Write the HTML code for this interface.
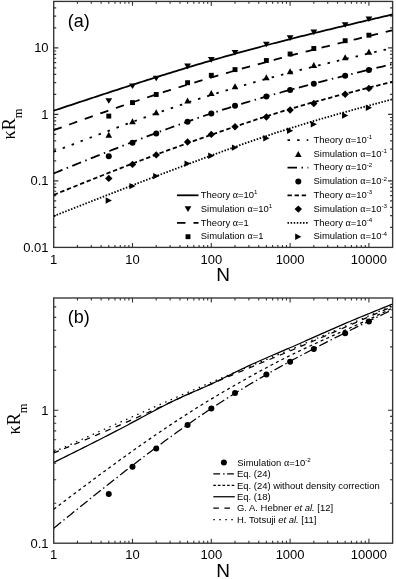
<!DOCTYPE html>
<html><head><meta charset="utf-8"><style>
html,body{margin:0;padding:0;background:#fff;}
body{width:396px;height:579px;overflow:hidden;}
svg{display:block;filter:grayscale(1);}
</style></head><body>
<svg width="396" height="579" viewBox="0 0 396 579" font-family="Liberation Sans" fill="#000">
<rect width="396" height="579" fill="#fff"/>
<g>
<rect x="53.70" y="1.42" width="338.92" height="245.98" fill="none" stroke="#333" stroke-width="1.35"/>
<path d="M77.42,247.40v-2.4M77.42,1.42v2.4M91.30,247.40v-2.4M91.30,1.42v2.4M101.14,247.40v-2.4M101.14,1.42v2.4M108.78,247.40v-2.4M108.78,1.42v2.4M115.02,247.40v-2.4M115.02,1.42v2.4M120.29,247.40v-2.4M120.29,1.42v2.4M124.86,247.40v-2.4M124.86,1.42v2.4M128.89,247.40v-2.4M128.89,1.42v2.4M132.50,247.40v-4.4M132.50,1.42v4.4M156.22,247.40v-2.4M156.22,1.42v2.4M170.10,247.40v-2.4M170.10,1.42v2.4M179.94,247.40v-2.4M179.94,1.42v2.4M187.58,247.40v-2.4M187.58,1.42v2.4M193.82,247.40v-2.4M193.82,1.42v2.4M199.09,247.40v-2.4M199.09,1.42v2.4M203.66,247.40v-2.4M203.66,1.42v2.4M207.69,247.40v-2.4M207.69,1.42v2.4M211.30,247.40v-4.4M211.30,1.42v4.4M235.02,247.40v-2.4M235.02,1.42v2.4M248.90,247.40v-2.4M248.90,1.42v2.4M258.74,247.40v-2.4M258.74,1.42v2.4M266.38,247.40v-2.4M266.38,1.42v2.4M272.62,247.40v-2.4M272.62,1.42v2.4M277.89,247.40v-2.4M277.89,1.42v2.4M282.46,247.40v-2.4M282.46,1.42v2.4M286.49,247.40v-2.4M286.49,1.42v2.4M290.10,247.40v-4.4M290.10,1.42v4.4M313.82,247.40v-2.4M313.82,1.42v2.4M327.70,247.40v-2.4M327.70,1.42v2.4M337.54,247.40v-2.4M337.54,1.42v2.4M345.18,247.40v-2.4M345.18,1.42v2.4M351.42,247.40v-2.4M351.42,1.42v2.4M356.69,247.40v-2.4M356.69,1.42v2.4M361.26,247.40v-2.4M361.26,1.42v2.4M365.29,247.40v-2.4M365.29,1.42v2.4M368.90,247.40v-4.4M368.90,1.42v4.4M53.70,180.90h4.6M392.62,180.90h-4.6M53.70,114.40h4.6M392.62,114.40h-4.6M53.70,47.90h4.6M392.62,47.90h-4.6M53.70,227.38h2.5M392.62,227.38h-2.5M53.70,215.67h2.5M392.62,215.67h-2.5M53.70,207.36h2.5M392.62,207.36h-2.5M53.70,200.92h2.5M392.62,200.92h-2.5M53.70,195.65h2.5M392.62,195.65h-2.5M53.70,191.20h2.5M392.62,191.20h-2.5M53.70,187.34h2.5M392.62,187.34h-2.5M53.70,183.94h2.5M392.62,183.94h-2.5M53.70,160.88h2.5M392.62,160.88h-2.5M53.70,149.17h2.5M392.62,149.17h-2.5M53.70,140.86h2.5M392.62,140.86h-2.5M53.70,134.42h2.5M392.62,134.42h-2.5M53.70,129.15h2.5M392.62,129.15h-2.5M53.70,124.70h2.5M392.62,124.70h-2.5M53.70,120.84h2.5M392.62,120.84h-2.5M53.70,117.44h2.5M392.62,117.44h-2.5M53.70,94.38h2.5M392.62,94.38h-2.5M53.70,82.67h2.5M392.62,82.67h-2.5M53.70,74.36h2.5M392.62,74.36h-2.5M53.70,67.92h2.5M392.62,67.92h-2.5M53.70,62.65h2.5M392.62,62.65h-2.5M53.70,58.20h2.5M392.62,58.20h-2.5M53.70,54.34h2.5M392.62,54.34h-2.5M53.70,50.94h2.5M392.62,50.94h-2.5M53.70,27.88h2.5M392.62,27.88h-2.5M53.70,16.17h2.5M392.62,16.17h-2.5M53.70,7.86h2.5M392.62,7.86h-2.5" stroke="#333" stroke-width="1.1" fill="none"/>
<text x="53.70" y="263.70" text-anchor="middle" font-size="13">1</text>
<text x="132.50" y="263.70" text-anchor="middle" font-size="13">10</text>
<text x="211.30" y="263.70" text-anchor="middle" font-size="13">100</text>
<text x="290.10" y="263.70" text-anchor="middle" font-size="13">1000</text>
<text x="368.90" y="263.70" text-anchor="middle" font-size="13">10000</text>
<text x="48.6" y="52.30" text-anchor="end" font-size="13">10</text>
<text x="48.6" y="118.80" text-anchor="end" font-size="13">1</text>
<text x="48.6" y="185.30" text-anchor="end" font-size="13">0.1</text>
<text x="48.6" y="251.80" text-anchor="end" font-size="13">0.01</text>
<clipPath id="ca"><rect x="53.7" y="1.418494711654759" width="338.9211636583217" height="245.98150528834526"/></clipPath>
<g clip-path="url(#ca)">
<path d="M53.70,110.70 L56.55,109.75 L59.40,108.81 L62.24,107.86 L65.09,106.92 L67.94,105.97 L70.79,105.03 L73.64,104.09 L76.48,103.14 L79.33,102.20 L82.18,101.26 L85.03,100.32 L87.88,99.37 L90.73,98.43 L93.57,97.50 L96.42,96.56 L99.27,95.62 L102.12,94.69 L104.97,93.75 L107.81,92.82 L110.66,91.89 L113.51,90.96 L116.36,90.03 L119.21,89.10 L122.05,88.18 L124.90,87.25 L127.75,86.33 L130.60,85.41 L133.45,84.50 L136.29,83.58 L139.14,82.67 L141.99,81.76 L144.84,80.85 L147.69,79.94 L150.53,79.04 L153.38,78.14 L156.23,77.24 L159.08,76.34 L161.93,75.45 L164.78,74.56 L167.62,73.67 L170.47,72.79 L173.32,71.91 L176.17,71.03 L179.02,70.15 L181.86,69.28 L184.71,68.42 L187.56,67.55 L190.41,66.69 L193.26,65.83 L196.10,64.98 L198.95,64.13 L201.80,63.29 L204.65,62.45 L207.50,61.61 L210.34,60.78 L213.19,59.95 L216.04,59.13 L218.89,58.31 L221.74,57.49 L224.58,56.68 L227.43,55.87 L230.28,55.07 L233.13,54.27 L235.98,53.48 L238.83,52.69 L241.67,51.90 L244.52,51.12 L247.37,50.34 L250.22,49.57 L253.07,48.79 L255.91,48.03 L258.76,47.26 L261.61,46.50 L264.46,45.75 L267.31,45.00 L270.15,44.25 L273.00,43.50 L275.85,42.76 L278.70,42.02 L281.55,41.29 L284.39,40.56 L287.24,39.83 L290.09,39.10 L292.94,38.38 L295.79,37.66 L298.63,36.95 L301.48,36.24 L304.33,35.53 L307.18,34.82 L310.03,34.12 L312.88,33.42 L315.72,32.72 L318.57,32.02 L321.42,31.33 L324.27,30.64 L327.12,29.95 L329.96,29.26 L332.81,28.58 L335.66,27.89 L338.51,27.21 L341.36,26.53 L344.20,25.86 L347.05,25.18 L349.90,24.51 L352.75,23.83 L355.60,23.16 L358.44,22.49 L361.29,21.82 L364.14,21.15 L366.99,20.48 L369.84,19.82 L372.68,19.15 L375.53,18.48 L378.38,17.82 L381.23,17.16 L384.08,16.49 L386.93,15.83 L389.77,15.16 L392.62,14.50" fill="none" stroke="#000" stroke-width="1.8"/>
<g><path d="M105.38,98.20h6.80l-3.40,5.60z"/><path d="M129.10,83.50h6.80l-3.40,5.60z"/><path d="M152.82,75.70h6.80l-3.40,5.60z"/><path d="M184.18,63.60h6.80l-3.40,5.60z"/><path d="M207.90,57.10h6.80l-3.40,5.60z"/><path d="M231.62,49.90h6.80l-3.40,5.60z"/><path d="M262.98,41.70h6.80l-3.40,5.60z"/><path d="M286.70,35.30h6.80l-3.40,5.60z"/><path d="M310.42,29.60h6.80l-3.40,5.60z"/><path d="M341.78,22.20h6.80l-3.40,5.60z"/><path d="M365.50,16.40h6.80l-3.40,5.60z"/></g>
<path d="M53.70,130.20 L56.55,129.17 L59.40,128.14 L62.24,127.10 L65.09,126.07 L67.94,125.04 L70.79,124.01 L73.64,122.99 L76.48,121.96 L79.33,120.93 L82.18,119.91 L85.03,118.89 L87.88,117.87 L90.73,116.85 L93.57,115.84 L96.42,114.82 L99.27,113.81 L102.12,112.81 L104.97,111.80 L107.81,110.80 L110.66,109.81 L113.51,108.81 L116.36,107.82 L119.21,106.84 L122.05,105.86 L124.90,104.88 L127.75,103.91 L130.60,102.94 L133.45,101.98 L136.29,101.02 L139.14,100.07 L141.99,99.13 L144.84,98.18 L147.69,97.25 L150.53,96.31 L153.38,95.39 L156.23,94.46 L159.08,93.55 L161.93,92.63 L164.78,91.72 L167.62,90.82 L170.47,89.92 L173.32,89.03 L176.17,88.14 L179.02,87.25 L181.86,86.37 L184.71,85.49 L187.56,84.62 L190.41,83.75 L193.26,82.88 L196.10,82.02 L198.95,81.17 L201.80,80.31 L204.65,79.47 L207.50,78.62 L210.34,77.78 L213.19,76.94 L216.04,76.11 L218.89,75.28 L221.74,74.46 L224.58,73.64 L227.43,72.82 L230.28,72.00 L233.13,71.19 L235.98,70.39 L238.83,69.58 L241.67,68.78 L244.52,67.99 L247.37,67.19 L250.22,66.40 L253.07,65.62 L255.91,64.84 L258.76,64.06 L261.61,63.28 L264.46,62.51 L267.31,61.74 L270.15,60.97 L273.00,60.21 L275.85,59.45 L278.70,58.70 L281.55,57.94 L284.39,57.19 L287.24,56.45 L290.09,55.70 L292.94,54.96 L295.79,54.22 L298.63,53.49 L301.48,52.76 L304.33,52.03 L307.18,51.30 L310.03,50.58 L312.88,49.86 L315.72,49.14 L318.57,48.42 L321.42,47.70 L324.27,46.99 L327.12,46.28 L329.96,45.57 L332.81,44.87 L335.66,44.16 L338.51,43.46 L341.36,42.75 L344.20,42.05 L347.05,41.36 L349.90,40.66 L352.75,39.96 L355.60,39.27 L358.44,38.57 L361.29,37.88 L364.14,37.19 L366.99,36.50 L369.84,35.81 L372.68,35.12 L375.53,34.43 L378.38,33.74 L381.23,33.05 L384.08,32.36 L386.93,31.67 L389.77,30.99 L392.62,30.30" fill="none" stroke="#000" stroke-width="1.8" stroke-dasharray="8.5 8"/>
<g><rect x="106.33" y="113.65" width="4.90" height="4.90"/><rect x="130.05" y="100.15" width="4.90" height="4.90"/><rect x="153.77" y="92.05" width="4.90" height="4.90"/><rect x="185.13" y="80.25" width="4.90" height="4.90"/><rect x="208.85" y="72.85" width="4.90" height="4.90"/><rect x="232.57" y="67.15" width="4.90" height="4.90"/><rect x="263.93" y="58.05" width="4.90" height="4.90"/><rect x="287.65" y="51.55" width="4.90" height="4.90"/><rect x="311.37" y="46.05" width="4.90" height="4.90"/><rect x="342.73" y="38.25" width="4.90" height="4.90"/><rect x="366.45" y="32.75" width="4.90" height="4.90"/></g>
<path d="M53.70,151.70 L56.55,150.60 L59.40,149.51 L62.24,148.41 L65.09,147.32 L67.94,146.23 L70.79,145.13 L73.64,144.04 L76.48,142.95 L79.33,141.86 L82.18,140.77 L85.03,139.68 L87.88,138.60 L90.73,137.51 L93.57,136.43 L96.42,135.35 L99.27,134.27 L102.12,133.19 L104.97,132.12 L107.81,131.05 L110.66,129.98 L113.51,128.92 L116.36,127.85 L119.21,126.80 L122.05,125.74 L124.90,124.69 L127.75,123.64 L130.60,122.60 L133.45,121.55 L136.29,120.52 L139.14,119.49 L141.99,118.46 L144.84,117.43 L147.69,116.41 L150.53,115.40 L153.38,114.39 L156.23,113.38 L159.08,112.38 L161.93,111.39 L164.78,110.39 L167.62,109.41 L170.47,108.43 L173.32,107.45 L176.17,106.48 L179.02,105.52 L181.86,104.56 L184.71,103.61 L187.56,102.66 L190.41,101.72 L193.26,100.78 L196.10,99.85 L198.95,98.93 L201.80,98.01 L204.65,97.10 L207.50,96.20 L210.34,95.30 L213.19,94.41 L216.04,93.52 L218.89,92.65 L221.74,91.78 L224.58,90.91 L227.43,90.05 L230.28,89.20 L233.13,88.35 L235.98,87.51 L238.83,86.68 L241.67,85.85 L244.52,85.03 L247.37,84.21 L250.22,83.40 L253.07,82.60 L255.91,81.80 L258.76,81.00 L261.61,80.21 L264.46,79.43 L267.31,78.65 L270.15,77.88 L273.00,77.11 L275.85,76.35 L278.70,75.59 L281.55,74.84 L284.39,74.09 L287.24,73.34 L290.09,72.60 L292.94,71.87 L295.79,71.14 L298.63,70.41 L301.48,69.69 L304.33,68.97 L307.18,68.25 L310.03,67.54 L312.88,66.84 L315.72,66.13 L318.57,65.43 L321.42,64.74 L324.27,64.04 L327.12,63.35 L329.96,62.66 L332.81,61.98 L335.66,61.30 L338.51,60.62 L341.36,59.94 L344.20,59.26 L347.05,58.59 L349.90,57.92 L352.75,57.25 L355.60,56.58 L358.44,55.91 L361.29,55.25 L364.14,54.59 L366.99,53.92 L369.84,53.26 L372.68,52.60 L375.53,51.94 L378.38,51.28 L381.23,50.63 L384.08,49.97 L386.93,49.31 L389.77,48.66 L392.62,48.00" fill="none" stroke="#000" stroke-width="1.8" stroke-dasharray="2.5 7.1"/>
<g><path d="M105.48,137.70h6.60l-3.30,-6.00z"/><path d="M129.20,124.30h6.60l-3.30,-6.00z"/><path d="M152.92,115.30h6.60l-3.30,-6.00z"/><path d="M184.28,103.40h6.60l-3.30,-6.00z"/><path d="M208.00,96.00h6.60l-3.30,-6.00z"/><path d="M231.72,89.20h6.60l-3.30,-6.00z"/><path d="M263.08,80.20h6.60l-3.30,-6.00z"/><path d="M286.80,74.30h6.60l-3.30,-6.00z"/><path d="M310.52,68.00h6.60l-3.30,-6.00z"/><path d="M341.88,60.20h6.60l-3.30,-6.00z"/><path d="M365.60,54.80h6.60l-3.30,-6.00z"/></g>
<path d="M53.70,173.40 L56.55,172.25 L59.40,171.10 L62.24,169.94 L65.09,168.79 L67.94,167.64 L70.79,166.49 L73.64,165.34 L76.48,164.19 L79.33,163.04 L82.18,161.90 L85.03,160.75 L87.88,159.61 L90.73,158.47 L93.57,157.33 L96.42,156.19 L99.27,155.05 L102.12,153.92 L104.97,152.79 L107.81,151.66 L110.66,150.53 L113.51,149.41 L116.36,148.29 L119.21,147.17 L122.05,146.06 L124.90,144.95 L127.75,143.84 L130.60,142.74 L133.45,141.63 L136.29,140.54 L139.14,139.45 L141.99,138.36 L144.84,137.27 L147.69,136.19 L150.53,135.12 L153.38,134.05 L156.23,132.98 L159.08,131.92 L161.93,130.87 L164.78,129.81 L167.62,128.77 L170.47,127.73 L173.32,126.69 L176.17,125.67 L179.02,124.64 L181.86,123.63 L184.71,122.62 L187.56,121.61 L190.41,120.61 L193.26,119.62 L196.10,118.64 L198.95,117.66 L201.80,116.69 L204.65,115.72 L207.50,114.77 L210.34,113.82 L213.19,112.87 L216.04,111.94 L218.89,111.01 L221.74,110.09 L224.58,109.18 L227.43,108.27 L230.28,107.37 L233.13,106.48 L235.98,105.60 L238.83,104.72 L241.67,103.84 L244.52,102.98 L247.37,102.12 L250.22,101.26 L253.07,100.42 L255.91,99.57 L258.76,98.74 L261.61,97.91 L264.46,97.08 L267.31,96.26 L270.15,95.45 L273.00,94.64 L275.85,93.84 L278.70,93.04 L281.55,92.25 L284.39,91.46 L287.24,90.68 L290.09,89.90 L292.94,89.13 L295.79,88.36 L298.63,87.60 L301.48,86.84 L304.33,86.08 L307.18,85.33 L310.03,84.58 L312.88,83.84 L315.72,83.10 L318.57,82.36 L321.42,81.63 L324.27,80.90 L327.12,80.17 L329.96,79.44 L332.81,78.72 L335.66,78.00 L338.51,77.29 L341.36,76.57 L344.20,75.86 L347.05,75.15 L349.90,74.45 L352.75,73.74 L355.60,73.04 L358.44,72.34 L361.29,71.64 L364.14,70.94 L366.99,70.24 L369.84,69.54 L372.68,68.85 L375.53,68.15 L378.38,67.46 L381.23,66.77 L384.08,66.08 L386.93,65.38 L389.77,64.69 L392.62,64.00" fill="none" stroke="#000" stroke-width="1.8" stroke-dasharray="9.5 4.5 1.5 4.5"/>
<g><circle cx="108.78" cy="156.30" r="3.00"/><circle cx="132.50" cy="142.70" r="3.00"/><circle cx="156.22" cy="133.50" r="3.00"/><circle cx="187.58" cy="121.80" r="3.00"/><circle cx="211.30" cy="113.50" r="3.00"/><circle cx="235.02" cy="105.70" r="3.00"/><circle cx="266.38" cy="96.50" r="3.00"/><circle cx="290.10" cy="90.10" r="3.00"/><circle cx="313.82" cy="83.70" r="3.00"/><circle cx="345.18" cy="75.80" r="3.00"/><circle cx="368.90" cy="70.00" r="3.00"/></g>
<path d="M53.70,194.90 L56.55,193.75 L59.40,192.60 L62.24,191.45 L65.09,190.30 L67.94,189.15 L70.79,188.00 L73.64,186.86 L76.48,185.71 L79.33,184.56 L82.18,183.42 L85.03,182.28 L87.88,181.14 L90.73,180.00 L93.57,178.86 L96.42,177.73 L99.27,176.60 L102.12,175.47 L104.97,174.34 L107.81,173.21 L110.66,172.09 L113.51,170.97 L116.36,169.86 L119.21,168.74 L122.05,167.64 L124.90,166.53 L127.75,165.43 L130.60,164.33 L133.45,163.24 L136.29,162.15 L139.14,161.06 L141.99,159.98 L144.84,158.90 L147.69,157.83 L150.53,156.76 L153.38,155.70 L156.23,154.63 L159.08,153.58 L161.93,152.52 L164.78,151.47 L167.62,150.42 L170.47,149.38 L173.32,148.34 L176.17,147.31 L179.02,146.27 L181.86,145.24 L184.71,144.22 L187.56,143.20 L190.41,142.18 L193.26,141.16 L196.10,140.15 L198.95,139.14 L201.80,138.13 L204.65,137.13 L207.50,136.13 L210.34,135.13 L213.19,134.14 L216.04,133.15 L218.89,132.16 L221.74,131.18 L224.58,130.20 L227.43,129.22 L230.28,128.25 L233.13,127.28 L235.98,126.31 L238.83,125.35 L241.67,124.40 L244.52,123.44 L247.37,122.50 L250.22,121.56 L253.07,120.62 L255.91,119.69 L258.76,118.76 L261.61,117.84 L264.46,116.93 L267.31,116.02 L270.15,115.12 L273.00,114.23 L275.85,113.34 L278.70,112.46 L281.55,111.58 L284.39,110.72 L287.24,109.86 L290.09,109.00 L292.94,108.16 L295.79,107.32 L298.63,106.49 L301.48,105.66 L304.33,104.85 L307.18,104.04 L310.03,103.23 L312.88,102.43 L315.72,101.64 L318.57,100.85 L321.42,100.07 L324.27,99.30 L327.12,98.53 L329.96,97.76 L332.81,97.00 L335.66,96.24 L338.51,95.49 L341.36,94.74 L344.20,93.99 L347.05,93.25 L349.90,92.51 L352.75,91.78 L355.60,91.05 L358.44,90.32 L361.29,89.59 L364.14,88.87 L366.99,88.14 L369.84,87.42 L372.68,86.70 L375.53,85.99 L378.38,85.27 L381.23,84.55 L384.08,83.84 L386.93,83.13 L389.77,82.41 L392.62,81.70" fill="none" stroke="#000" stroke-width="1.8" stroke-dasharray="4.4 2.7"/>
<g><path d="M108.78,174.70l3.70,3.70l-3.70,3.70l-3.70,-3.70z"/><path d="M132.50,160.70l3.70,3.70l-3.70,3.70l-3.70,-3.70z"/><path d="M156.22,151.20l3.70,3.70l-3.70,3.70l-3.70,-3.70z"/><path d="M187.58,138.30l3.70,3.70l-3.70,3.70l-3.70,-3.70z"/><path d="M211.30,130.70l3.70,3.70l-3.70,3.70l-3.70,-3.70z"/><path d="M235.02,123.00l3.70,3.70l-3.70,3.70l-3.70,-3.70z"/><path d="M266.38,113.30l3.70,3.70l-3.70,3.70l-3.70,-3.70z"/><path d="M290.10,106.30l3.70,3.70l-3.70,3.70l-3.70,-3.70z"/><path d="M313.82,99.80l3.70,3.70l-3.70,3.70l-3.70,-3.70z"/><path d="M345.18,90.60l3.70,3.70l-3.70,3.70l-3.70,-3.70z"/><path d="M368.90,84.70l3.70,3.70l-3.70,3.70l-3.70,-3.70z"/></g>
<path d="M53.70,216.10 L56.55,214.98 L59.40,213.86 L62.24,212.74 L65.09,211.62 L67.94,210.51 L70.79,209.39 L73.64,208.27 L76.48,207.15 L79.33,206.04 L82.18,204.92 L85.03,203.80 L87.88,202.69 L90.73,201.57 L93.57,200.46 L96.42,199.34 L99.27,198.23 L102.12,197.12 L104.97,196.00 L107.81,194.89 L110.66,193.78 L113.51,192.67 L116.36,191.56 L119.21,190.46 L122.05,189.35 L124.90,188.24 L127.75,187.14 L130.60,186.04 L133.45,184.93 L136.29,183.83 L139.14,182.73 L141.99,181.64 L144.84,180.54 L147.69,179.44 L150.53,178.35 L153.38,177.26 L156.23,176.17 L159.08,175.08 L161.93,173.99 L164.78,172.91 L167.62,171.83 L170.47,170.74 L173.32,169.67 L176.17,168.59 L179.02,167.51 L181.86,166.44 L184.71,165.37 L187.56,164.30 L190.41,163.24 L193.26,162.17 L196.10,161.11 L198.95,160.06 L201.80,159.00 L204.65,157.95 L207.50,156.90 L210.34,155.85 L213.19,154.81 L216.04,153.77 L218.89,152.73 L221.74,151.69 L224.58,150.66 L227.43,149.63 L230.28,148.61 L233.13,147.59 L235.98,146.57 L238.83,145.56 L241.67,144.56 L244.52,143.55 L247.37,142.56 L250.22,141.57 L253.07,140.58 L255.91,139.60 L258.76,138.62 L261.61,137.65 L264.46,136.69 L267.31,135.73 L270.15,134.78 L273.00,133.83 L275.85,132.89 L278.70,131.96 L281.55,131.04 L284.39,130.12 L287.24,129.21 L290.09,128.30 L292.94,127.41 L295.79,126.52 L298.63,125.64 L301.48,124.76 L304.33,123.90 L307.18,123.03 L310.03,122.18 L312.88,121.33 L315.72,120.49 L318.57,119.65 L321.42,118.82 L324.27,117.99 L327.12,117.17 L329.96,116.36 L332.81,115.54 L335.66,114.74 L338.51,113.93 L341.36,113.14 L344.20,112.34 L347.05,111.55 L349.90,110.76 L352.75,109.98 L355.60,109.19 L358.44,108.41 L361.29,107.64 L364.14,106.86 L366.99,106.09 L369.84,105.32 L372.68,104.55 L375.53,103.78 L378.38,103.02 L381.23,102.25 L384.08,101.49 L386.93,100.73 L389.77,99.96 L392.62,99.20" fill="none" stroke="#000" stroke-width="1.8" stroke-dasharray="1.5 1.6"/>
<g><path d="M105.68,197.30l6.20,3.20l-6.20,3.20z"/><path d="M129.40,182.90l6.20,3.20l-6.20,3.20z"/><path d="M153.12,172.90l6.20,3.20l-6.20,3.20z"/><path d="M184.48,160.40l6.20,3.20l-6.20,3.20z"/><path d="M208.20,152.60l6.20,3.20l-6.20,3.20z"/><path d="M231.92,144.40l6.20,3.20l-6.20,3.20z"/><path d="M263.28,135.00l6.20,3.20l-6.20,3.20z"/><path d="M287.00,127.50l6.20,3.20l-6.20,3.20z"/><path d="M310.72,121.00l6.20,3.20l-6.20,3.20z"/><path d="M342.08,112.30l6.20,3.20l-6.20,3.20z"/><path d="M365.80,104.60l6.20,3.20l-6.20,3.20z"/></g>
</g>
<text x="67.8" y="26.6" font-size="18">(a)</text>
<text x="223.2" y="280.8" text-anchor="middle" font-size="19">N</text>
<text transform="translate(14.8,124) rotate(-90)" text-anchor="middle" font-family="Liberation Serif" font-size="18">κR<tspan font-size="12.5" dy="7.5">m</tspan></text>
<path d="M177.00,195.30H198.50" stroke="#000" stroke-width="1.8" fill="none"/>
<text x="200.80" y="198.00" font-size="9.45">Theory <tspan font-family="Liberation Serif" font-size="10">α</tspan>=10<tspan font-size="6.2" dy="-3.6">1</tspan></text>
<path d="M184.60,206.30h6.80l-3.40,5.60z"/>
<text x="200.80" y="211.80" font-size="9.45">Simulation <tspan font-family="Liberation Serif" font-size="10">α</tspan>=10<tspan font-size="6.2" dy="-3.6">1</tspan></text>
<path d="M177.00,222.90H198.50" stroke="#000" stroke-width="1.8" fill="none" stroke-dasharray="8.5 8"/>
<text x="200.8" y="225.60" font-size="9.45">Theory <tspan font-family="Liberation Serif" font-size="10">α</tspan>=1</text>
<rect x="185.55" y="234.25" width="4.90" height="4.90"/>
<text x="200.8" y="239.40" font-size="9.45">Simulation <tspan font-family="Liberation Serif" font-size="10">α</tspan>=1</text>
<path d="M287.50,140.10H308.30" stroke="#000" stroke-width="1.8" fill="none" stroke-dasharray="2.5 7.1"/>
<text x="313.50" y="142.80" font-size="9.45">Theory <tspan font-family="Liberation Serif" font-size="10">α</tspan>=10<tspan font-size="6.2" dy="-3.6">-1</tspan></text>
<path d="M295.00,156.90h6.60l-3.30,-6.00z"/>
<text x="313.50" y="156.60" font-size="9.45">Simulation <tspan font-family="Liberation Serif" font-size="10">α</tspan>=10<tspan font-size="6.2" dy="-3.6">-1</tspan></text>
<path d="M287.50,167.70H308.30" stroke="#000" stroke-width="1.8" fill="none" stroke-dasharray="9.5 4.5 1.5 4.5"/>
<text x="313.50" y="170.40" font-size="9.45">Theory <tspan font-family="Liberation Serif" font-size="10">α</tspan>=10<tspan font-size="6.2" dy="-3.6">-2</tspan></text>
<circle cx="298.30" cy="181.50" r="3.00"/>
<text x="313.50" y="184.20" font-size="9.45">Simulation <tspan font-family="Liberation Serif" font-size="10">α</tspan>=10<tspan font-size="6.2" dy="-3.6">-2</tspan></text>
<path d="M287.50,195.30H308.30" stroke="#000" stroke-width="1.8" fill="none" stroke-dasharray="4.4 2.7"/>
<text x="313.50" y="198.00" font-size="9.45">Theory <tspan font-family="Liberation Serif" font-size="10">α</tspan>=10<tspan font-size="6.2" dy="-3.6">-3</tspan></text>
<path d="M298.30,205.40l3.70,3.70l-3.70,3.70l-3.70,-3.70z"/>
<text x="313.50" y="211.80" font-size="9.45">Simulation <tspan font-family="Liberation Serif" font-size="10">α</tspan>=10<tspan font-size="6.2" dy="-3.6">-3</tspan></text>
<path d="M287.50,222.90H308.30" stroke="#000" stroke-width="1.8" fill="none" stroke-dasharray="1.5 1.6"/>
<text x="313.50" y="225.60" font-size="9.45">Theory <tspan font-family="Liberation Serif" font-size="10">α</tspan>=10<tspan font-size="6.2" dy="-3.6">-4</tspan></text>
<path d="M295.20,233.50l6.20,3.20l-6.20,3.20z"/>
<text x="313.50" y="239.40" font-size="9.45">Simulation <tspan font-family="Liberation Serif" font-size="10">α</tspan>=10<tspan font-size="6.2" dy="-3.6">-4</tspan></text>
</g>
<g>
<rect x="53.70" y="297.99" width="338.92" height="245.21" fill="none" stroke="#333" stroke-width="1.35"/>
<path d="M77.42,543.20v-2.4M77.42,297.99v2.4M91.30,543.20v-2.4M91.30,297.99v2.4M101.14,543.20v-2.4M101.14,297.99v2.4M108.78,543.20v-2.4M108.78,297.99v2.4M115.02,543.20v-2.4M115.02,297.99v2.4M120.29,543.20v-2.4M120.29,297.99v2.4M124.86,543.20v-2.4M124.86,297.99v2.4M128.89,543.20v-2.4M128.89,297.99v2.4M132.50,543.20v-4.4M132.50,297.99v4.4M156.22,543.20v-2.4M156.22,297.99v2.4M170.10,543.20v-2.4M170.10,297.99v2.4M179.94,543.20v-2.4M179.94,297.99v2.4M187.58,543.20v-2.4M187.58,297.99v2.4M193.82,543.20v-2.4M193.82,297.99v2.4M199.09,543.20v-2.4M199.09,297.99v2.4M203.66,543.20v-2.4M203.66,297.99v2.4M207.69,543.20v-2.4M207.69,297.99v2.4M211.30,543.20v-4.4M211.30,297.99v4.4M235.02,543.20v-2.4M235.02,297.99v2.4M248.90,543.20v-2.4M248.90,297.99v2.4M258.74,543.20v-2.4M258.74,297.99v2.4M266.38,543.20v-2.4M266.38,297.99v2.4M272.62,543.20v-2.4M272.62,297.99v2.4M277.89,543.20v-2.4M277.89,297.99v2.4M282.46,543.20v-2.4M282.46,297.99v2.4M286.49,543.20v-2.4M286.49,297.99v2.4M290.10,543.20v-4.4M290.10,297.99v4.4M313.82,543.20v-2.4M313.82,297.99v2.4M327.70,543.20v-2.4M327.70,297.99v2.4M337.54,543.20v-2.4M337.54,297.99v2.4M345.18,543.20v-2.4M345.18,297.99v2.4M351.42,543.20v-2.4M351.42,297.99v2.4M356.69,543.20v-2.4M356.69,297.99v2.4M361.26,543.20v-2.4M361.26,297.99v2.4M365.29,543.20v-2.4M365.29,297.99v2.4M368.90,543.20v-4.4M368.90,297.99v4.4M53.70,410.30h4.6M392.62,410.30h-4.6M53.70,503.19h2.5M392.62,503.19h-2.5M53.70,479.79h2.5M392.62,479.79h-2.5M53.70,463.19h2.5M392.62,463.19h-2.5M53.70,450.31h2.5M392.62,450.31h-2.5M53.70,439.78h2.5M392.62,439.78h-2.5M53.70,430.89h2.5M392.62,430.89h-2.5M53.70,423.18h2.5M392.62,423.18h-2.5M53.70,416.38h2.5M392.62,416.38h-2.5M53.70,370.29h2.5M392.62,370.29h-2.5M53.70,346.89h2.5M392.62,346.89h-2.5M53.70,330.29h2.5M392.62,330.29h-2.5M53.70,317.41h2.5M392.62,317.41h-2.5M53.70,306.88h2.5M392.62,306.88h-2.5" stroke="#333" stroke-width="1.1" fill="none"/>
<text x="53.70" y="559.30" text-anchor="middle" font-size="13">1</text>
<text x="132.50" y="559.30" text-anchor="middle" font-size="13">10</text>
<text x="211.30" y="559.30" text-anchor="middle" font-size="13">100</text>
<text x="290.10" y="559.30" text-anchor="middle" font-size="13">1000</text>
<text x="368.90" y="559.30" text-anchor="middle" font-size="13">10000</text>
<text x="48.6" y="414.70" text-anchor="end" font-size="13">1</text>
<text x="48.6" y="547.60" text-anchor="end" font-size="13">0.1</text>
<clipPath id="cb"><rect x="53.7" y="297.9864704821053" width="338.9211636583217" height="245.21352951789476"/></clipPath>
<g clip-path="url(#cb)">
<path d="M53.70,528.21 L56.55,525.91 L59.40,523.61 L62.24,521.30 L65.09,519.00 L67.94,516.70 L70.79,514.40 L73.64,512.10 L76.48,509.81 L79.33,507.52 L82.18,505.23 L85.03,502.94 L87.88,500.65 L90.73,498.37 L93.57,496.09 L96.42,493.82 L99.27,491.55 L102.12,489.28 L104.97,487.02 L107.81,484.77 L110.66,482.51 L113.51,480.27 L116.36,478.03 L119.21,475.80 L122.05,473.57 L124.90,471.35 L127.75,469.13 L130.60,466.93 L133.45,464.73 L136.29,462.54 L139.14,460.35 L141.99,458.18 L144.84,456.01 L147.69,453.85 L150.53,451.71 L153.38,449.57 L156.23,447.44 L159.08,445.32 L161.93,443.21 L164.78,441.11 L167.62,439.02 L170.47,436.94 L173.32,434.87 L176.17,432.82 L179.02,430.77 L181.86,428.74 L184.71,426.72 L187.56,424.71 L190.41,422.72 L193.26,420.74 L196.10,418.77 L198.95,416.81 L201.80,414.87 L204.65,412.95 L207.50,411.03 L210.34,409.13 L213.19,407.25 L216.04,405.38 L218.89,403.53 L221.74,401.69 L224.58,399.87 L227.43,398.05 L230.28,396.26 L233.13,394.47 L235.98,392.70 L238.83,390.95 L241.67,389.20 L244.52,387.47 L247.37,385.75 L250.22,384.05 L253.07,382.35 L255.91,380.67 L258.76,379.00 L261.61,377.34 L264.46,375.69 L267.31,374.06 L270.15,372.43 L273.00,370.82 L275.85,369.21 L278.70,367.62 L281.55,366.03 L284.39,364.46 L287.24,362.90 L290.09,361.34 L292.94,359.80 L295.79,358.26 L298.63,356.73 L301.48,355.21 L304.33,353.70 L307.18,352.20 L310.03,350.71 L312.88,349.22 L315.72,347.74 L318.57,346.27 L321.42,344.80 L324.27,343.34 L327.12,341.89 L329.96,340.44 L332.81,339.00 L335.66,337.56 L338.51,336.13 L341.36,334.70 L344.20,333.28 L347.05,331.87 L349.90,330.45 L352.75,329.04 L355.60,327.64 L358.44,326.23 L361.29,324.84 L364.14,323.44 L366.99,322.05 L369.84,320.65 L372.68,319.26 L375.53,317.88 L378.38,316.49 L381.23,315.11 L384.08,313.72 L386.93,312.34 L389.77,310.96 L392.62,309.58" fill="none" stroke="#000" stroke-width="1.25" stroke-dasharray="9.5 3 1.5 3"/>
<path d="M53.70,509.20 L56.55,507.06 L59.40,504.91 L62.24,502.77 L65.09,500.63 L67.94,498.49 L70.79,496.35 L73.64,494.21 L76.48,492.08 L79.33,489.94 L82.18,487.81 L85.03,485.69 L87.88,483.56 L90.73,481.44 L93.57,479.33 L96.42,477.22 L99.27,475.11 L102.12,473.01 L104.97,470.92 L107.81,468.83 L110.66,466.74 L113.51,464.67 L116.36,462.60 L119.21,460.53 L122.05,458.48 L124.90,456.43 L127.75,454.39 L130.60,452.35 L133.45,450.33 L136.29,448.31 L139.14,446.31 L141.99,444.31 L144.84,442.32 L147.69,440.34 L150.53,438.37 L153.38,436.42 L156.23,434.47 L159.08,432.53 L161.93,430.60 L164.78,428.68 L167.62,426.78 L170.47,424.88 L173.32,423.00 L176.17,421.12 L179.02,419.26 L181.86,417.41 L184.71,415.57 L187.56,413.74 L190.41,411.93 L193.26,410.12 L196.10,408.33 L198.95,406.56 L201.80,404.79 L204.65,403.04 L207.50,401.30 L210.34,399.58 L213.19,397.86 L216.04,396.17 L218.89,394.48 L221.74,392.80 L224.58,391.14 L227.43,389.49 L230.28,387.84 L233.13,386.21 L235.98,384.58 L238.83,382.97 L241.67,381.35 L244.52,379.75 L247.37,378.15 L250.22,376.57 L253.07,374.99 L255.91,373.42 L258.76,371.86 L261.61,370.31 L264.46,368.77 L267.31,367.24 L270.15,365.73 L273.00,364.23 L275.85,362.74 L278.70,361.26 L281.55,359.80 L284.39,358.35 L287.24,356.92 L290.09,355.50 L292.94,354.11 L295.79,352.72 L298.63,351.35 L301.48,350.00 L304.33,348.65 L307.18,347.32 L310.03,346.00 L312.88,344.68 L315.72,343.38 L318.57,342.08 L321.42,340.79 L324.27,339.51 L327.12,338.23 L329.96,336.95 L332.81,335.68 L335.66,334.41 L338.51,333.14 L341.36,331.87 L344.20,330.59 L347.05,329.32 L349.90,328.04 L352.75,326.75 L355.60,325.47 L358.44,324.17 L361.29,322.87 L364.14,321.56 L366.99,320.24 L369.84,318.91 L372.68,317.57 L375.53,316.22 L378.38,314.86 L381.23,313.50 L384.08,312.13 L386.93,310.75 L389.77,309.38 L392.62,308.00" fill="none" stroke="#000" stroke-width="1.25" stroke-dasharray="3 3.2"/>
<path d="M53.70,462.50 L56.55,461.09 L59.40,459.67 L62.24,458.26 L65.09,456.85 L67.94,455.43 L70.79,454.01 L73.64,452.59 L76.48,451.17 L79.33,449.75 L82.18,448.33 L85.03,446.90 L87.88,445.47 L90.73,444.03 L93.57,442.59 L96.42,441.15 L99.27,439.70 L102.12,438.25 L104.97,436.79 L107.81,435.33 L110.66,433.86 L113.51,432.39 L116.36,430.91 L119.21,429.43 L122.05,427.93 L124.90,426.43 L127.75,424.93 L130.60,423.42 L133.45,421.89 L136.29,420.37 L139.14,418.83 L141.99,417.30 L144.84,415.76 L147.69,414.23 L150.53,412.70 L153.38,411.18 L156.23,409.67 L159.08,408.18 L161.93,406.69 L164.78,405.23 L167.62,403.79 L170.47,402.36 L173.32,400.97 L176.17,399.60 L179.02,398.26 L181.86,396.95 L184.71,395.67 L187.56,394.41 L190.41,393.17 L193.26,391.94 L196.10,390.72 L198.95,389.49 L201.80,388.26 L204.65,387.01 L207.50,385.74 L210.34,384.44 L213.19,383.11 L216.04,381.76 L218.89,380.37 L221.74,378.97 L224.58,377.55 L227.43,376.13 L230.28,374.70 L233.13,373.28 L235.98,371.87 L238.83,370.47 L241.67,369.09 L244.52,367.74 L247.37,366.41 L250.22,365.09 L253.07,363.80 L255.91,362.52 L258.76,361.25 L261.61,359.99 L264.46,358.75 L267.31,357.51 L270.15,356.28 L273.00,355.05 L275.85,353.83 L278.70,352.61 L281.55,351.39 L284.39,350.17 L287.24,348.94 L290.09,347.70 L292.94,346.46 L295.79,345.22 L298.63,343.96 L301.48,342.71 L304.33,341.45 L307.18,340.18 L310.03,338.91 L312.88,337.65 L315.72,336.38 L318.57,335.11 L321.42,333.85 L324.27,332.59 L327.12,331.33 L329.96,330.07 L332.81,328.82 L335.66,327.58 L338.51,326.34 L341.36,325.12 L344.20,323.90 L347.05,322.69 L349.90,321.48 L352.75,320.29 L355.60,319.09 L358.44,317.91 L361.29,316.73 L364.14,315.56 L366.99,314.39 L369.84,313.22 L372.68,312.06 L375.53,310.90 L378.38,309.75 L381.23,308.60 L384.08,307.45 L386.93,306.30 L389.77,305.15 L392.62,304.00" fill="none" stroke="#000" stroke-width="1.25"/>
<path d="M53.70,453.00 L56.55,451.82 L59.40,450.63 L62.24,449.45 L65.09,448.26 L67.94,447.07 L70.79,445.88 L73.64,444.70 L76.48,443.51 L79.33,442.31 L82.18,441.12 L85.03,439.92 L87.88,438.73 L90.73,437.52 L93.57,436.32 L96.42,435.11 L99.27,433.91 L102.12,432.69 L104.97,431.48 L107.81,430.26 L110.66,429.03 L113.51,427.81 L116.36,426.57 L119.21,425.34 L122.05,424.10 L124.90,422.85 L127.75,421.60 L130.60,420.34 L133.45,419.08 L136.29,417.81 L139.14,416.54 L141.99,415.26 L144.84,413.98 L147.69,412.70 L150.53,411.41 L153.38,410.12 L156.23,408.82 L159.08,407.53 L161.93,406.23 L164.78,404.93 L167.62,403.64 L170.47,402.34 L173.32,401.04 L176.17,399.74 L179.02,398.45 L181.86,397.15 L184.71,395.86 L187.56,394.57 L190.41,393.29 L193.26,392.01 L196.10,390.73 L198.95,389.46 L201.80,388.19 L204.65,386.93 L207.50,385.67 L210.34,384.42 L213.19,383.17 L216.04,381.94 L218.89,380.71 L221.74,379.48 L224.58,378.26 L227.43,377.05 L230.28,375.84 L233.13,374.64 L235.98,373.44 L238.83,372.24 L241.67,371.05 L244.52,369.86 L247.37,368.67 L250.22,367.48 L253.07,366.30 L255.91,365.12 L258.76,363.94 L261.61,362.76 L264.46,361.58 L267.31,360.40 L270.15,359.22 L273.00,358.03 L275.85,356.85 L278.70,355.67 L281.55,354.48 L284.39,353.29 L287.24,352.10 L290.09,350.90 L292.94,349.71 L295.79,348.50 L298.63,347.30 L301.48,346.09 L304.33,344.88 L307.18,343.66 L310.03,342.45 L312.88,341.23 L315.72,340.00 L318.57,338.78 L321.42,337.55 L324.27,336.32 L327.12,335.09 L329.96,333.85 L332.81,332.61 L335.66,331.37 L338.51,330.13 L341.36,328.89 L344.20,327.64 L347.05,326.40 L349.90,325.15 L352.75,323.90 L355.60,322.65 L358.44,321.39 L361.29,320.14 L364.14,318.89 L366.99,317.63 L369.84,316.37 L372.68,315.12 L375.53,313.86 L378.38,312.60 L381.23,311.34 L384.08,310.08 L386.93,308.82 L389.77,307.56 L392.62,306.30" fill="none" stroke="#000" stroke-width="1.25" stroke-dasharray="5.6 5.6"/>
<path d="M53.70,452.00 L56.55,450.72 L59.40,449.44 L62.24,448.16 L65.09,446.88 L67.94,445.60 L70.79,444.32 L73.64,443.04 L76.48,441.77 L79.33,440.49 L82.18,439.21 L85.03,437.93 L87.88,436.65 L90.73,435.38 L93.57,434.10 L96.42,432.82 L99.27,431.55 L102.12,430.27 L104.97,429.00 L107.81,427.72 L110.66,426.45 L113.51,425.17 L116.36,423.90 L119.21,422.63 L122.05,421.36 L124.90,420.09 L127.75,418.82 L130.60,417.55 L133.45,416.28 L136.29,415.01 L139.14,413.74 L141.99,412.48 L144.84,411.21 L147.69,409.95 L150.53,408.69 L153.38,407.43 L156.23,406.17 L159.08,404.91 L161.93,403.66 L164.78,402.40 L167.62,401.15 L170.47,399.90 L173.32,398.66 L176.17,397.41 L179.02,396.17 L181.86,394.93 L184.71,393.69 L187.56,392.46 L190.41,391.23 L193.26,390.00 L196.10,388.78 L198.95,387.56 L201.80,386.34 L204.65,385.12 L207.50,383.91 L210.34,382.70 L213.19,381.50 L216.04,380.30 L218.89,379.10 L221.74,377.91 L224.58,376.72 L227.43,375.53 L230.28,374.35 L233.13,373.17 L235.98,371.99 L238.83,370.81 L241.67,369.63 L244.52,368.45 L247.37,367.28 L250.22,366.10 L253.07,364.93 L255.91,363.75 L258.76,362.58 L261.61,361.41 L264.46,360.23 L267.31,359.06 L270.15,357.88 L273.00,356.70 L275.85,355.53 L278.70,354.35 L281.55,353.16 L284.39,351.98 L287.24,350.79 L290.09,349.60 L292.94,348.41 L295.79,347.22 L298.63,346.02 L301.48,344.82 L304.33,343.62 L307.18,342.41 L310.03,341.20 L312.88,339.99 L315.72,338.78 L318.57,337.57 L321.42,336.35 L324.27,335.13 L327.12,333.91 L329.96,332.69 L332.81,331.47 L335.66,330.24 L338.51,329.01 L341.36,327.78 L344.20,326.55 L347.05,325.32 L349.90,324.09 L352.75,322.86 L355.60,321.62 L358.44,320.39 L361.29,319.15 L364.14,317.91 L366.99,316.67 L369.84,315.43 L372.68,314.19 L375.53,312.95 L378.38,311.71 L381.23,310.47 L384.08,309.23 L386.93,307.98 L389.77,306.74 L392.62,305.50" fill="none" stroke="#000" stroke-width="1.25" stroke-dasharray="1.5 4.6"/>
<g><circle cx="108.78" cy="494.04" r="3.00"/><circle cx="132.50" cy="466.86" r="3.00"/><circle cx="156.22" cy="448.47" r="3.00"/><circle cx="187.58" cy="425.09" r="3.00"/><circle cx="211.30" cy="408.50" r="3.00"/><circle cx="235.02" cy="392.91" r="3.00"/><circle cx="266.38" cy="374.53" r="3.00"/><circle cx="290.10" cy="361.74" r="3.00"/><circle cx="313.82" cy="348.95" r="3.00"/><circle cx="345.18" cy="333.16" r="3.00"/><circle cx="368.90" cy="321.57" r="3.00"/></g>
</g>
<text x="67.8" y="323.0" font-size="18">(b)</text>
<text x="223.2" y="576.8" text-anchor="middle" font-size="19">N</text>
<text transform="translate(19.8,419) rotate(-90)" text-anchor="middle" font-family="Liberation Serif" font-size="18">κR<tspan font-size="12.5" dy="7.5">m</tspan></text>
<circle cx="223.90" cy="462.60" r="3.00"/>
<text x="237.3" y="465.80" font-size="9.45">Simulation <tspan font-family="Liberation Serif" font-size="10">α</tspan>=10<tspan font-size="6.2" dy="-3.6">-2</tspan></text>
<path d="M213.30,473.98H234.80" stroke="#000" stroke-width="1.25" fill="none" stroke-dasharray="6.8 3 1.5 2.5"/>
<path d="M213.30,485.36H234.80" stroke="#000" stroke-width="1.25" fill="none" stroke-dasharray="2.6 2"/>
<path d="M213.30,496.74H234.80" stroke="#000" stroke-width="1.25" fill="none"/>
<path d="M213.30,508.12H234.80" stroke="#000" stroke-width="1.25" fill="none" stroke-dasharray="5.6 5.5"/>
<path d="M213.30,519.50H234.80" stroke="#000" stroke-width="1.25" fill="none" stroke-dasharray="1.5 4.5"/>
<text x="237.0" y="477.18" font-size="9.45">Eq. (24)</text>
<text x="237.0" y="488.56" font-size="9.45">Eq. (24) without density correction</text>
<text x="237.0" y="499.94" font-size="9.45">Eq. (18)</text>
<text x="237.0" y="511.32" font-size="9.45">G. A. Hebner <tspan font-style="italic">et al.</tspan> [12]</text>
<text x="237.0" y="522.70" font-size="9.45">H. Totsuji <tspan font-style="italic">et al.</tspan> [11]</text>
</g>
</svg>
</body></html>
